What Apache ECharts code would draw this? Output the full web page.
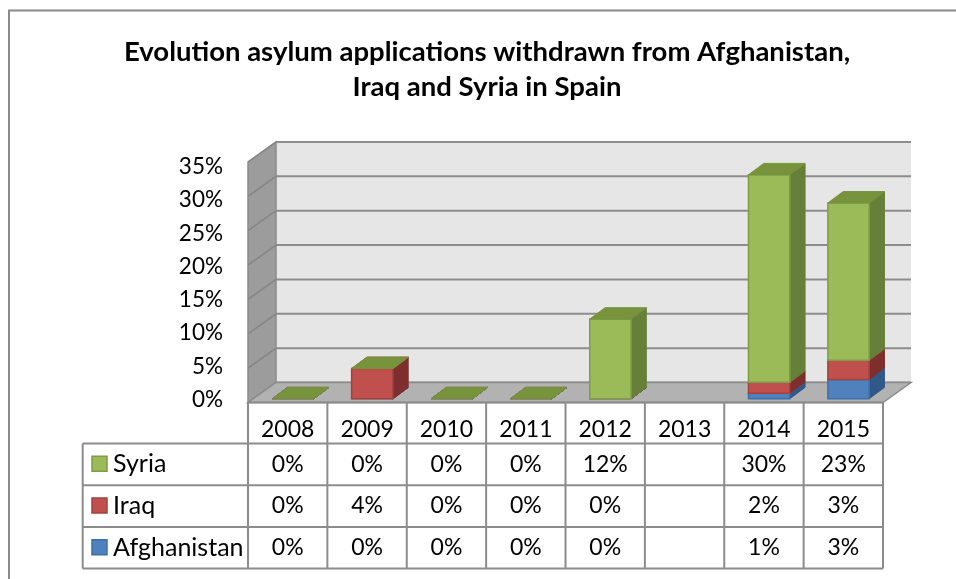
<!DOCTYPE html>
<html><head><meta charset="utf-8">
<script src="https://cdn.jsdelivr.net/npm/echarts@6/dist/echarts.min.js"></script>
<style>html,body{margin:0;padding:0;background:#fff}#c{width:956px;height:579px}</style>
</head><body><div id="c"></div>
<script>
// ---------------- data ----------------
const categories = ['2008', '2009', '2010', '2011', '2012', '2013', '2014', '2015'];
const seriesNames = ['Syria', 'Iraq', 'Afghanistan'];
const syria = [0, 0, 0, 0, 11.6, null, 30.2, 22.9];
const iraq = [0, 4.4, 0, 0, 0, null, 1.6, 2.8];
const afghanistan = [0, 0, 0, 0, 0, null, 0.8, 2.8];
const yTicks = [0, 5, 10, 15, 20, 25, 30, 35];
const titleLines = ['Evolution asylum applications withdrawn from Afghanistan,', 'Iraq and Syria in Spain'];

// ---------------- styles ----------------
const FONT = 'Lato';
const COLORS = {
  Syria: { front: '#9BBB59', side: '#66803A', top: '#77933C', edge: '#7E9D47' },
  Iraq: { front: '#C0504D', side: '#7E2F2D', top: '#A03E3B', edge: '#A3413E' },
  Afghanistan: { front: '#4F81BD', side: '#30598A', top: '#3E6CA3', edge: '#3F6FA8' }
};
const WALL_DX = 28, WALL_DY = -20;
const BAR_OX = 5.2, BAR_OY = -3.7, BAR_DX = 15.3, BAR_DY = -11.4, BAR_W = 0.52;
const GRID_COLOR = '#8C8C8C';

const valuesByName = { Syria: syria, Iraq: iraq, Afghanistan: afghanistan };

// stacked segments (bottom → top: Afghanistan, Iraq, Syria)
function segments(name) {
  const out = [];
  categories.forEach((c, i) => {
    const a = afghanistan[i], q = iraq[i], s = syria[i];
    if (a == null && q == null && s == null) return;
    let base, top;
    if (name === 'Afghanistan') { base = 0; top = a; }
    else if (name === 'Iraq') { base = a; top = a + q; }
    else { base = a + q; top = a + q + s; }
    out.push([i, base, top]);
  });
  return out;
}

function renderBar(name) {
  const c = COLORS[name];
  return function (params, api) {
    const i = api.value(0), b = api.value(1), t = api.value(2);
    const pb = api.coord([i, b]), pt = api.coord([i, t]);
    const w = api.size([1, 0])[0] * BAR_W;
    const xl = pb[0] + BAR_OX - w / 2, xr = xl + w;
    const y0 = pb[1] + BAR_OY, y1 = pt[1] + BAR_OY;
    const ch = [];
    ch.push({ type: 'polygon', shape: { points: [[xr, y1], [xr + BAR_DX, y1 + BAR_DY], [xr + BAR_DX, y0 + BAR_DY], [xr, y0]] },
      style: { fill: c.side, stroke: c.side, lineWidth: 1 } });
    if (y0 - y1 > 0.05) {
      ch.push({ type: 'rect', shape: { x: xl, y: y1, width: w, height: y0 - y1 },
        style: { fill: c.front, stroke: c.edge, lineWidth: 1.5 } });
    }
    ch.push({ type: 'polygon', shape: { points: [[xl, y1], [xr, y1], [xr + BAR_DX, y1 + BAR_DY], [xl + BAR_DX, y1 + BAR_DY]] },
      style: { fill: c.top, stroke: c.top, lineWidth: 1 } });
    return { type: 'group', children: ch };
  };
}

function renderWalls(params, api) {
  const cs = params.coordSys;
  const x0 = cs.x, x1 = cs.x + cs.width, yT = cs.y, yB = cs.y + cs.height;
  const ch = [];
  ch.push({ type: 'rect', shape: { x: x0 + WALL_DX, y: yT + WALL_DY, width: cs.width, height: cs.height },
    style: { fill: '#E6E6E6' } });
  ch.push({ type: 'polygon', shape: { points: [[x0, yT], [x0 + WALL_DX, yT + WALL_DY], [x0 + WALL_DX, yB + WALL_DY], [x0, yB]] },
    style: { fill: '#9C9C9C', stroke: '#8A8A8A', lineWidth: 1.5 } });
  yTicks.forEach(v => {
    const y = api.coord([0, v])[1];
    ch.push({ type: 'line', shape: { x1: x0 + WALL_DX, y1: y + WALL_DY, x2: x1 + WALL_DX, y2: y + WALL_DY },
      style: { stroke: GRID_COLOR, lineWidth: 2 } });
    ch.push({ type: 'line', shape: { x1: x0, y1: y, x2: x0 + WALL_DX, y2: y + WALL_DY },
      style: { stroke: '#858585', lineWidth: 1.5 } });
  });
  ch.push({ type: 'polygon', shape: { points: [[x0, yB], [x1, yB], [x1 + WALL_DX, yB + WALL_DY], [x0 + WALL_DX, yB + WALL_DY]] },
    style: { fill: '#B2B2B2', stroke: GRID_COLOR, lineWidth: 1.5 } });
  ch.push({ type: 'line', shape: { x1: x0, y1: yB, x2: x1, y2: yB }, style: { stroke: '#8A8A8A', lineWidth: 2 } });
  return { type: 'group', children: ch };
}

function renderTable(params, api) {
  const cs = params.coordSys;
  const x0 = cs.x, x1 = cs.x + cs.width, yB = cs.y + cs.height;
  const band = api.size([1, 0])[0];
  const tableLeft = 82.7, headH = 41, rowH = 41.7;
  const rowsTop = yB + headH, tableBottom = rowsTop + rowH * seriesNames.length;
  const ch = [];
  const ls = { stroke: GRID_COLOR, lineWidth: 2 };
  for (let k = 0; k <= categories.length; k++) {
    const x = x0 + band * k;
    ch.push({ type: 'line', shape: { x1: x, y1: yB, x2: x, y2: tableBottom }, style: ls });
  }
  ch.push({ type: 'line', shape: { x1: tableLeft, y1: rowsTop, x2: tableLeft, y2: tableBottom }, style: ls });
  for (let r = 0; r <= seriesNames.length; r++) {
    const y = rowsTop + rowH * r;
    ch.push({ type: 'line', shape: { x1: tableLeft, y1: y, x2: x1, y2: y }, style: ls });
  }
  const ts = { fill: '#000', fontSize: 23, fontFamily: FONT, align: 'center', verticalAlign: 'middle' };
  categories.forEach((c, i) => {
    const x = api.coord([i, 0])[0];
    ch.push({ type: 'text', x: x, y: yB + 27, style: Object.assign({}, ts, { text: c }) });
  });
  seriesNames.forEach((n, r) => {
    const yc = rowsTop + rowH * r + rowH / 2;
    ch.push({ type: 'rect', shape: { x: 92, y: yc - 8, width: 15, height: 15 },
      style: { fill: COLORS[n].front, stroke: COLORS[n].edge, lineWidth: 1.5 } });
    ch.push({ type: 'text', x: 113, y: yc, style: Object.assign({}, ts, { text: n, align: 'left', fontSize: 25 }) });
    valuesByName[n].forEach((v, i) => {
      if (v == null) return;
      const x = api.coord([i, 0])[0];
      ch.push({ type: 'text', x: x, y: yc, style: Object.assign({}, ts, { text: Math.round(v) + '%' }) });
    });
  });
  return { type: 'group', children: ch };
}

const chart = echarts.init(document.getElementById('c'), null, { renderer: 'canvas' });
chart.setOption({
  animation: false,
  backgroundColor: '#fff',
  grid: [
    { left: 248, right: 73, top: 162, bottom: 176.5 },
    { left: 248, right: 73, top: 167, bottom: 179.5 }
  ],
  xAxis: [
    { type: 'category', data: categories, gridIndex: 0, show: false },
    { type: 'category', data: categories, gridIndex: 1, show: false }
  ],
  yAxis: [
    { type: 'value', gridIndex: 0, min: 0, max: 35, interval: 5, show: false },
    { type: 'value', gridIndex: 1, min: 0, max: 35, interval: 5,
      axisLine: { show: false }, axisTick: { show: false }, splitLine: { show: false },
      axisLabel: { formatter: '{value}%', margin: 25, fontSize: 22.5, fontFamily: FONT, color: '#000' } }
  ],
  graphic: [
    { type: 'rect', shape: { x: 9, y: 10.5, width: 1000, height: 1000 }, style: { fill: 'none', stroke: '#8A8A8A', lineWidth: 2 }, z: 0 },
    { type: 'text', x: 487, y: 52, style: { text: titleLines[0], fontSize: 27.5, fontWeight: 'bold', fontFamily: FONT, fill: '#000', align: 'center', verticalAlign: 'middle' } },
    { type: 'text', x: 487, y: 87, style: { text: titleLines[1], fontSize: 27.5, fontWeight: 'bold', fontFamily: FONT, fill: '#000', align: 'center', verticalAlign: 'middle' } }
  ],
  series: [
    { type: 'custom', name: 'walls', xAxisIndex: 0, yAxisIndex: 0, data: [[0, 0]], renderItem: renderWalls, z: 1, silent: true },
    { type: 'custom', name: 'Afghanistan', xAxisIndex: 0, yAxisIndex: 0, data: segments('Afghanistan'), renderItem: renderBar('Afghanistan'), z: 3 },
    { type: 'custom', name: 'Iraq', xAxisIndex: 0, yAxisIndex: 0, data: segments('Iraq'), renderItem: renderBar('Iraq'), z: 4 },
    { type: 'custom', name: 'Syria', xAxisIndex: 0, yAxisIndex: 0, data: segments('Syria'), renderItem: renderBar('Syria'), z: 5 },
    { type: 'custom', name: 'table', xAxisIndex: 0, yAxisIndex: 0, data: [[0, 0]], renderItem: renderTable, z: 6, silent: true }
  ]
});
</script>
</body></html>
